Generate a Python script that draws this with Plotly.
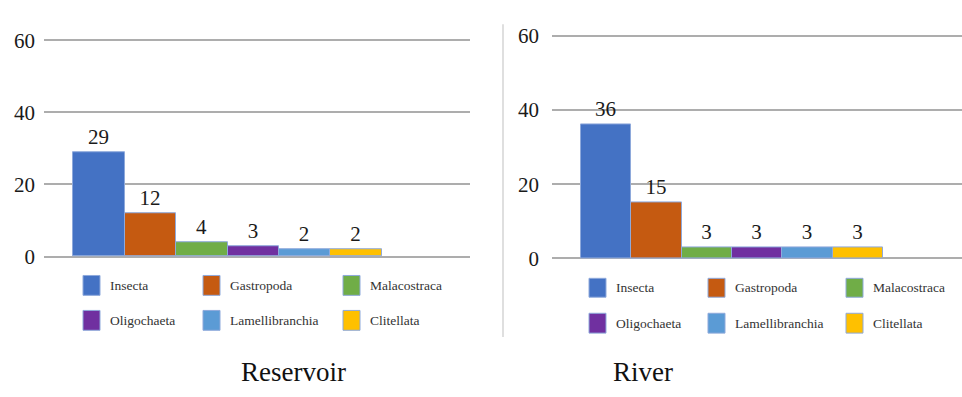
import plotly.graph_objects as go

# Taxon groups and their counts at each site
taxa = ["Insecta", "Gastropoda", "Malacostraca", "Oligochaeta", "Lamellibranchia", "Clitellata"]
reservoir_counts = [29, 12, 4, 3, 2, 2]
river_counts = [36, 15, 3, 3, 3, 3]
colors = ["#4472C4", "#C55A11", "#70AD47", "#7030A0", "#5B9BD5", "#FFC000"]
y_ticks = [0, 20, 40, 60]
panel_titles = ["Reservoir", "River"]

W, H = 962, 397
FONT = "Liberation Serif"


def px_x(v):
    return v / W


def px_y(v):
    return (H - v) / H


fig = go.Figure()

panels = [
    # (counts, x axis, y axis)
    (reservoir_counts, "x", "y"),
    (river_counts, "x2", "y2"),
]

for counts, xa, ya in panels:
    for name, val, col in zip(taxa, counts, colors):
        fig.add_trace(go.Bar(
            x=[0], y=[val], name=name,
            xaxis=xa, yaxis=ya,
            marker=dict(color=col, line=dict(color="#8EA9DB", width=1)),
            text=[str(val)], textposition="outside", constraintext="none",
            textfont=dict(family=FONT, size=21, color="#1a1a1a"),
            cliponaxis=False, showlegend=False,
            hoverinfo="name+y",
        ))


def y_axis(anchor, standoff, bottom_px, top_px):
    return dict(
        anchor=anchor, domain=[px_y(bottom_px), px_y(top_px)],
        range=[-0.3, 60.3], tickvals=y_ticks, showgrid=True, gridcolor="#ADADAD", gridwidth=1.5,
        zeroline=False, showline=False, ticks="", ticklabelstandoff=standoff,
        tickfont=dict(family=FONT, size=21, color="#1a1a1a"),
    )


xaxis_common = dict(showgrid=False, zeroline=False, showticklabels=False, ticks="", showline=False)

fig.update_layout(
    width=W, height=H,
    margin=dict(l=0, r=0, t=0, b=0),
    font=dict(family=FONT, color="#1a1a1a"),
    paper_bgcolor="white", plot_bgcolor="white",
    barmode="group", bargap=0, bargroupgap=0,
    xaxis=dict(domain=[px_x(44), px_x(470)], range=[-0.594, 0.785], **xaxis_common),
    yaxis=y_axis("x", 8, 261.1, 29.9),
    xaxis2=dict(domain=[px_x(552), 1.0], range=[-0.596, 0.762], **xaxis_common),
    yaxis2=y_axis("x2", 12, 263.2, 24.8),
)

# Hand-laid legend grids (3 columns x 2 rows) below each panel
legend_specs = [
    dict(x0=83, col_dx=[0, 120, 260], rows=[(280, 301), (317, 338)]),
    dict(x0=589, col_dx=[0, 119, 257], rows=[(283, 303), (320, 341)]),
]
for spec in legend_specs:
    for i, (name, col) in enumerate(zip(taxa, colors)):
        r, c = divmod(i, 3)
        left = spec["x0"] + spec["col_dx"][c]
        top, bottom = spec["rows"][r]
        fig.add_shape(
            type="rect", xref="paper", yref="paper",
            x0=px_x(left), x1=px_x(left + 17), y0=px_y(bottom), y1=px_y(top),
            fillcolor=col, line=dict(color="#8EA9DB", width=1),
        )
        fig.add_annotation(
            xref="paper", yref="paper", x=px_x(left + 25), y=px_y((top + bottom) / 2),
            text=name, showarrow=False, xanchor="left", yanchor="middle",
            font=dict(family=FONT, size=13.5, color="#333333"),
        )

# Panel captions
for title, cx in zip(panel_titles, [293, 643]):
    fig.add_annotation(
        xref="paper", yref="paper", x=px_x(cx), y=px_y(382),
        text=title, showarrow=False, xanchor="center", yanchor="middle",
        font=dict(family=FONT, size=27, color="#111111"),
    )

# Thin divider between the two panels
fig.add_shape(
    type="line", xref="paper", yref="paper",
    x0=px_x(503), x1=px_x(503), y0=px_y(345), y1=px_y(14),
    line=dict(color="#D4D4D4", width=1.5),
)

fig.write_html("out.html")
